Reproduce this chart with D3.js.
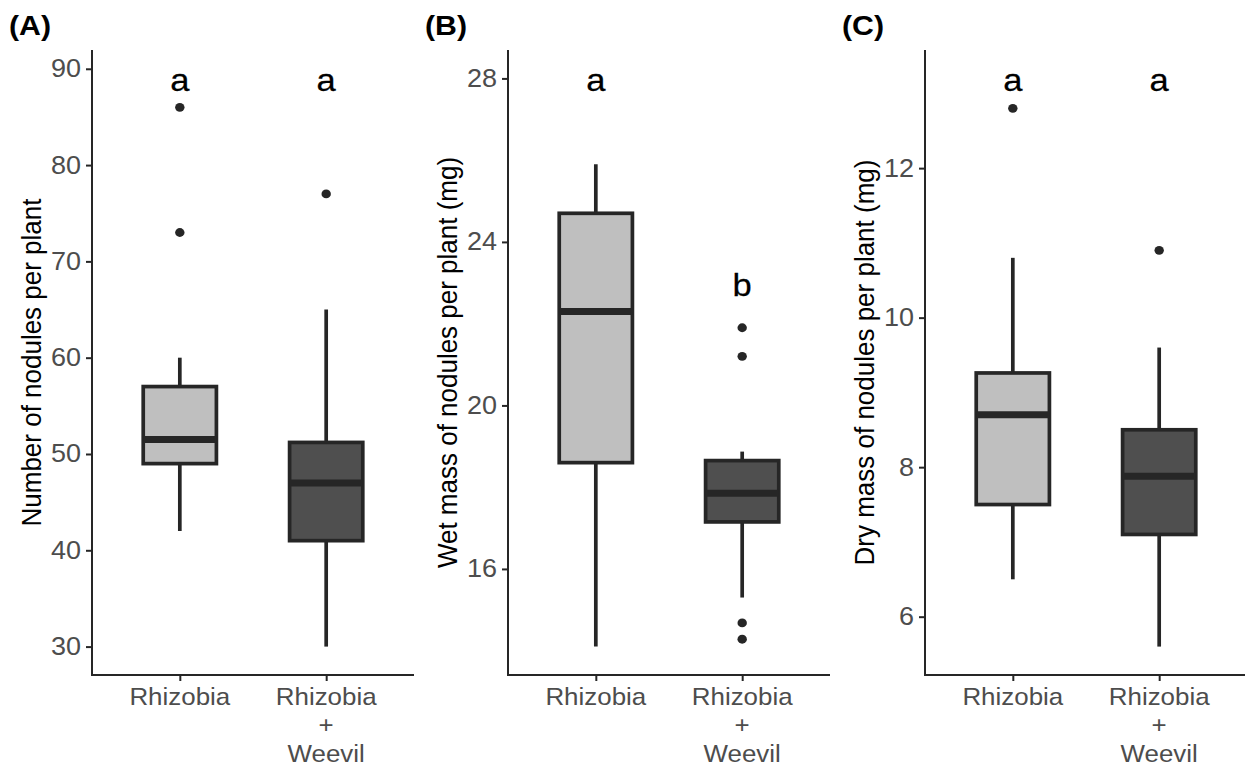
<!DOCTYPE html>
<html><head><meta charset="utf-8">
<script src="https://cdn.jsdelivr.net/npm/d3@7"></script>
<style>body{margin:0;background:#fff} svg{display:block}</style>
</head><body><svg id="chart" width="1245" height="767"></svg>
<script>
// ---------- data ----------
const categories = ["Rhizobia", "Rhizobia|+|Weevil"];
const groupFills = ["#bfbfbf", "#4f4f4f"];
// box stats: [lower whisker, Q1, median, Q3, upper whisker]
const nodulesBoxes = [[42, 49, 51.5, 57, 60], [30, 41, 47, 51.2, 65]];
const nodulesOutliers = [[86, 73], [77]];
const nodulesLetters = ["a", "a"];
const nodulesLetterPos = [89, 89];
const nodulesTicks = [30, 40, 50, 60, 70, 80, 90];

const wetBoxes = [[14.1, 18.6, 22.3, 24.7, 25.9], [15.3, 17.15, 17.85, 18.65, 18.87]];
const wetOutliers = [[], [21.9, 21.2, 14.68, 14.28]];
const wetLetters = ["a", "b"];
const wetLetterPos = [28, 23];
const wetTicks = [16, 20, 24, 28];

const dryBoxes = [[6.5, 7.5, 8.7, 9.26, 10.8], [5.6, 7.1, 7.88, 8.5, 9.6]];
const dryOutliers = [[12.8], [10.9]];
const dryLetters = ["a", "a"];
const dryLetterPos = [13.2, 13.2];
const dryTicks = [6, 8, 10, 12];

const panelTags = ["(A)", "(B)", "(C)"];
const yTitles = ["Number of nodules per plant", "Wet mass of nodules per plant (mg)", "Dry mass of nodules per plant (mg)"];

// ---------- layout ----------
const panels = [
  {tag: panelTags[0], title: yTitles[0], boxes: nodulesBoxes, outliers: nodulesOutliers, letters: nodulesLetters, letterPos: nodulesLetterPos, ticks: nodulesTicks, axisX: 92, tagX: 9},
  {tag: panelTags[1], title: yTitles[1], boxes: wetBoxes, outliers: wetOutliers, letters: wetLetters, letterPos: wetLetterPos, ticks: wetTicks, axisX: 508, tagX: 425},
  {tag: panelTags[2], title: yTitles[2], boxes: dryBoxes, outliers: dryOutliers, letters: dryLetters, letterPos: dryLetterPos, ticks: dryTicks, axisX: 925, tagX: 842}
];
const plotTop = 50, plotBottom = 675, panelW = 322;
const ink = "#262626";
const font = "'Liberation Sans', Arial, Helvetica, sans-serif";
const sx = 1.08; // horizontal stretch of the reference text

const svg = d3.select("#chart").style("font-family", font);

panels.forEach(p => {
  const vals = [];
  p.boxes.forEach(b => vals.push(...b));
  p.outliers.forEach(o => vals.push(...o));
  vals.push(...p.letterPos);
  const lo = d3.min(vals), hi = d3.max(vals), pad = (hi - lo) * 0.05;
  const y = d3.scaleLinear().domain([lo - pad, hi + pad]).range([plotBottom, plotTop]);
  const x = d3.scaleLinear().domain([0.4, 2.6]).range([p.axisX, p.axisX + panelW]);
  const halfW = 0.25;

  const g = svg.append("g");

  g.append("text").attr("transform", `translate(${p.tagX},35) scale(${sx},1)`).text(p.tag)
    .attr("font-size", 28).attr("font-weight", "bold").attr("fill", "#000");

  const yAxis = d3.axisLeft(y).tickValues(p.ticks).tickSize(6).tickPadding(4).tickFormat(d3.format("d"));
  const ya = g.append("g").attr("transform", `translate(${p.axisX},0)`).call(yAxis);
  ya.select(".domain").attr("d", `M0,${plotTop}V${plotBottom}`).attr("stroke", ink).attr("stroke-width", 2);
  ya.selectAll(".tick line").attr("stroke", ink).attr("stroke-width", 2);
  ya.selectAll(".tick text").attr("font-size", 25).attr("fill", "#4d4d4d").attr("font-family", font)
    .attr("transform", `scale(${sx},1)`).attr("x", -11 / sx);

  const xAxis = d3.axisBottom(x).tickValues([1, 2]).tickSize(6).tickFormat("");
  const xa = g.append("g").attr("transform", `translate(0,${plotBottom})`).call(xAxis);
  xa.select(".domain").attr("d", `M${p.axisX - 1},0H${p.axisX + panelW}`).attr("stroke", ink).attr("stroke-width", 2);
  xa.selectAll(".tick line").attr("stroke", ink).attr("stroke-width", 2);
  categories.forEach((c, i) => {
    const t = g.append("text").attr("transform", `translate(${x(i + 1)},0) scale(${sx},1)`)
      .attr("text-anchor", "middle").attr("font-size", 24).attr("fill", "#4d4d4d");
    c.split("|").forEach((line, k) => {
      t.append("tspan").attr("x", 0).attr("y", plotBottom + 30 + k * 28.5).text(line);
    });
  });

  g.append("text").attr("transform", `translate(${p.axisX - 51},${(plotTop + plotBottom) / 2}) scale(${sx},1) rotate(-90)`)
    .attr("text-anchor", "middle").attr("font-size", 26).attr("fill", "#000").text(p.title);

  p.boxes.forEach((b, i) => {
    const cx = x(i + 1);
    const [wl, q1, med, q3, wh] = b;
    g.append("line").attr("x1", cx).attr("x2", cx).attr("y1", y(q3)).attr("y2", y(wh))
      .attr("stroke", ink).attr("stroke-width", 3.7);
    g.append("line").attr("x1", cx).attr("x2", cx).attr("y1", y(q1)).attr("y2", y(wl))
      .attr("stroke", ink).attr("stroke-width", 3.7);
    g.append("rect").attr("x", x(i + 1 - halfW)).attr("width", x(i + 1 + halfW) - x(i + 1 - halfW))
      .attr("y", y(q3)).attr("height", y(q1) - y(q3))
      .attr("fill", groupFills[i]).attr("stroke", ink).attr("stroke-width", 3.7);
    g.append("line").attr("x1", x(i + 1 - halfW)).attr("x2", x(i + 1 + halfW)).attr("y1", y(med)).attr("y2", y(med))
      .attr("stroke", ink).attr("stroke-width", 7);
    g.selectAll(null).data(p.outliers[i]).enter().append("ellipse")
      .attr("cx", cx).attr("cy", d => y(d)).attr("rx", 4.7).attr("ry", 4.4).attr("fill", ink);
    g.append("text").attr("transform", `translate(${cx},${y(p.letterPos[i]) + 13}) scale(${sx},1)`)
      .attr("text-anchor", "middle").attr("font-size", 32).attr("fill", "#000")
      .attr("stroke", "#000").attr("stroke-width", 0.25).text(p.letters[i]);
  });
});
</script>
</body></html>
